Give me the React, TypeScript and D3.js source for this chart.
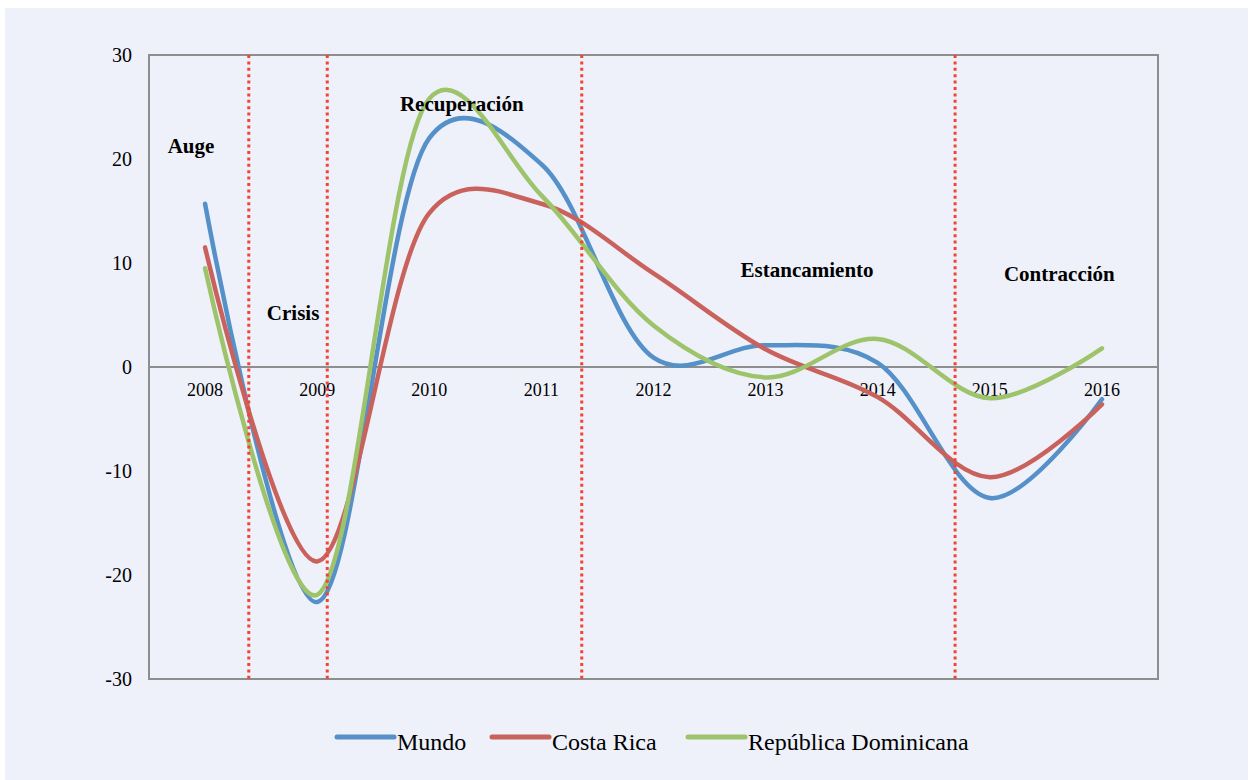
import React from "react";
import * as d3 from "d3";

const years = ["2008", "2009", "2010", "2011", "2012", "2013", "2014", "2015", "2016"];
const mundo = [15.7, -22.6, 22.0, 19.5, 0.9, 2.1, 0.4, -12.6, -3.1];
const costaRica = [11.5, -18.7, 14.8, 15.7, 9.0, 1.7, -2.9, -10.6, -3.6];
const repDom = [9.5, -21.9, 25.8, 16.5, 4.0, -1.0, 2.7, -3.0, 1.8];
const seriesNames = ["Mundo", "Costa Rica", "República Dominicana"];
const yTicks = [30, 20, 10, 0, -10, -20, -30];
// phase dividers, in fractional year-index units
const dividers = [0.39, 1.09, 3.36, 6.69];
const phaseNames = ["Auge", "Crisis", "Recuperación", "Estancamiento", "Contracción"];
const phaseIndex = [-0.125, 0.785, 2.29, 5.37, 7.62];
const phaseValue = [20.6, 4.5, 24.6, 8.7, 8.3];

const W = 1253;
const H = 780;
const colors = ["#5590C8", "#C9625C", "#9DC36B"];
const FONT = "'Liberation Serif', 'Times New Roman', serif";

export default function App() {
  const plot = { left: 149, right: 1158, top: 55, bottom: 679 };
  const x = d3.scaleLinear().domain([-0.5, years.length - 0.5]).range([plot.left, plot.right]);
  const y = d3.scaleLinear().domain([-30, 30]).range([plot.bottom, plot.top]);
  const line = d3
    .line<number>()
    .x((_, i) => x(i))
    .y((d) => y(d))
    .curve(d3.curveCatmullRom.alpha(0.2));
  const allSeries = [mundo, costaRica, repDom];

  const legendX = [337, 492, 688];

  return (
    <svg
      width={W}
      height={H}
      style={{ position: "absolute", left: 0, top: 0, display: "block" }}
      fontFamily={FONT}
    >
      <rect x={0} y={0} width={W} height={H} fill="#ffffff" />
      <rect x={5} y={8} width={1243} height={772} fill="#EEF1F9" />

      {/* plot border */}
      <rect
        x={plot.left}
        y={plot.top}
        width={plot.right - plot.left}
        height={plot.bottom - plot.top}
        fill="none"
        stroke="#8E8E8E"
        strokeWidth={2}
      />
      {/* zero axis */}
      <line x1={plot.left} x2={plot.right} y1={y(0)} y2={y(0)} stroke="#8E8E8E" strokeWidth={2} />

      {/* y tick labels */}
      {yTicks.map((t) => (
        <text key={t} x={132} y={y(t)} textAnchor="end" dominantBaseline="central" fontSize={20} fill="#000">
          {t}
        </text>
      ))}

      {/* year labels */}
      {years.map((yr, i) => (
        <text key={yr} x={x(i)} y={y(0) + 29} textAnchor="middle" fontSize={18} fill="#000">
          {yr}
        </text>
      ))}

      {/* series */}
      {allSeries.map((s, k) => (
        <path
          key={k}
          d={line(s) || ""}
          fill="none"
          stroke={colors[k]}
          strokeWidth={4.5}
          strokeLinecap="round"
          strokeLinejoin="round"
        />
      ))}

      {/* dividers */}
      {dividers.map((d, i) => (
        <line
          key={i}
          x1={x(d)}
          x2={x(d)}
          y1={plot.top}
          y2={plot.bottom}
          stroke="#F4432E"
          strokeWidth={3}
          strokeDasharray="3 3.4"
        />
      ))}

      {/* phase labels */}
      {phaseNames.map((p, i) => (
        <text
          key={p}
          x={x(phaseIndex[i])}
          y={y(phaseValue[i])}
          textAnchor="middle"
          fontSize={21}
          fontWeight="bold"
          fill="#000"
        >
          {p}
        </text>
      ))}

      {/* legend */}
      {seriesNames.map((n, k) => (
        <g key={n}>
          <line
            x1={legendX[k]}
            x2={legendX[k] + 57}
            y1={737}
            y2={737}
            stroke={colors[k]}
            strokeWidth={5}
            strokeLinecap="round"
          />
          <text x={legendX[k] + 60} y={750} fontSize={24} fill="#000">
            {n}
          </text>
        </g>
      ))}
    </svg>
  );
}
